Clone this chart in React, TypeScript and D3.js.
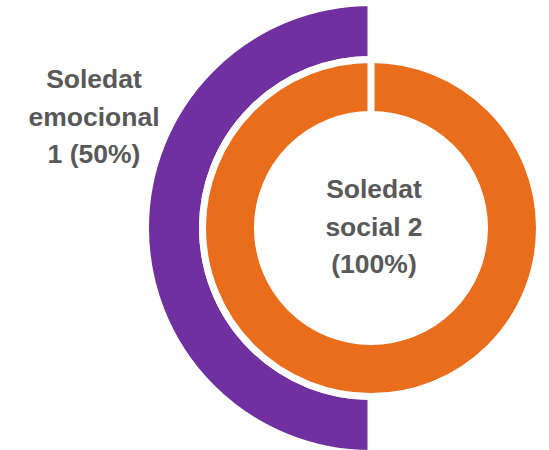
import React from "react";
import * as d3 from "d3";

const outerSeries = ["Soledat emocional 1", "Resta"];
const outerValues = [50, 50];
const innerSeries = ["Soledat social 2", "Resta"];
const innerValues = [100, 0];
const outerLabel = ["Soledat", "emocional", "1 (50%)"];
const innerLabel = ["Soledat", "social 2", "(100%)"];

const W = 549;
const H = 450;
const cx = 371;
const cy = 228;
const stroke = 7;

export default function App() {
  const pie = d3.pie<number>().sort(null).value((d) => d);
  // outer ring: transparent first half, purple second half
  const outerArcs = pie([...outerValues].reverse());
  const innerArcs = pie(innerValues);
  const outerArc = d3.arc<d3.PieArcDatum<number>>().innerRadius(168.5).outerRadius(225.5);
  const innerArc = d3.arc<d3.PieArcDatum<number>>().innerRadius(113.5).outerRadius(168.5);
  const outerColors = ["none", "#7030A0"];
  const innerColors = ["#EA6D1C", "#EA6D1C"];
  const lineH = 37.5;
  return (
    <svg width={W} height={H} style={{ position: "absolute", left: 0, top: 0 }}>
      <rect width={W} height={H} fill="#fff" />
      <g transform={`translate(${cx},${cy})`}>
        {outerArcs.map((a, i) =>
          i === 1 ? (
            <path key={"o" + i} d={outerArc(a) || ""} fill={outerColors[i]} stroke="#fff" strokeWidth={stroke} />
          ) : null
        )}
        {innerArcs.map((a, i) =>
          a.value > 0 ? (
            <path key={"i" + i} d={innerArc({ ...a, endAngle: a.endAngle - 1e-6 }) || ""} fill={innerColors[i]} stroke="#fff" strokeWidth={stroke} />
          ) : null
        )}
      </g>
      <g fontFamily="'Liberation Sans', Arial, sans-serif" fontWeight="bold" fontSize={26.5} fill="#595959" textAnchor="middle">
        {outerLabel.map((t, i) => (
          <text key={"l1" + i} x={94} y={88 + i * lineH}>{t}</text>
        ))}
        {innerLabel.map((t, i) => (
          <text key={"l2" + i} x={374} y={198 + i * lineH}>{t}</text>
        ))}
      </g>
    </svg>
  );
}
